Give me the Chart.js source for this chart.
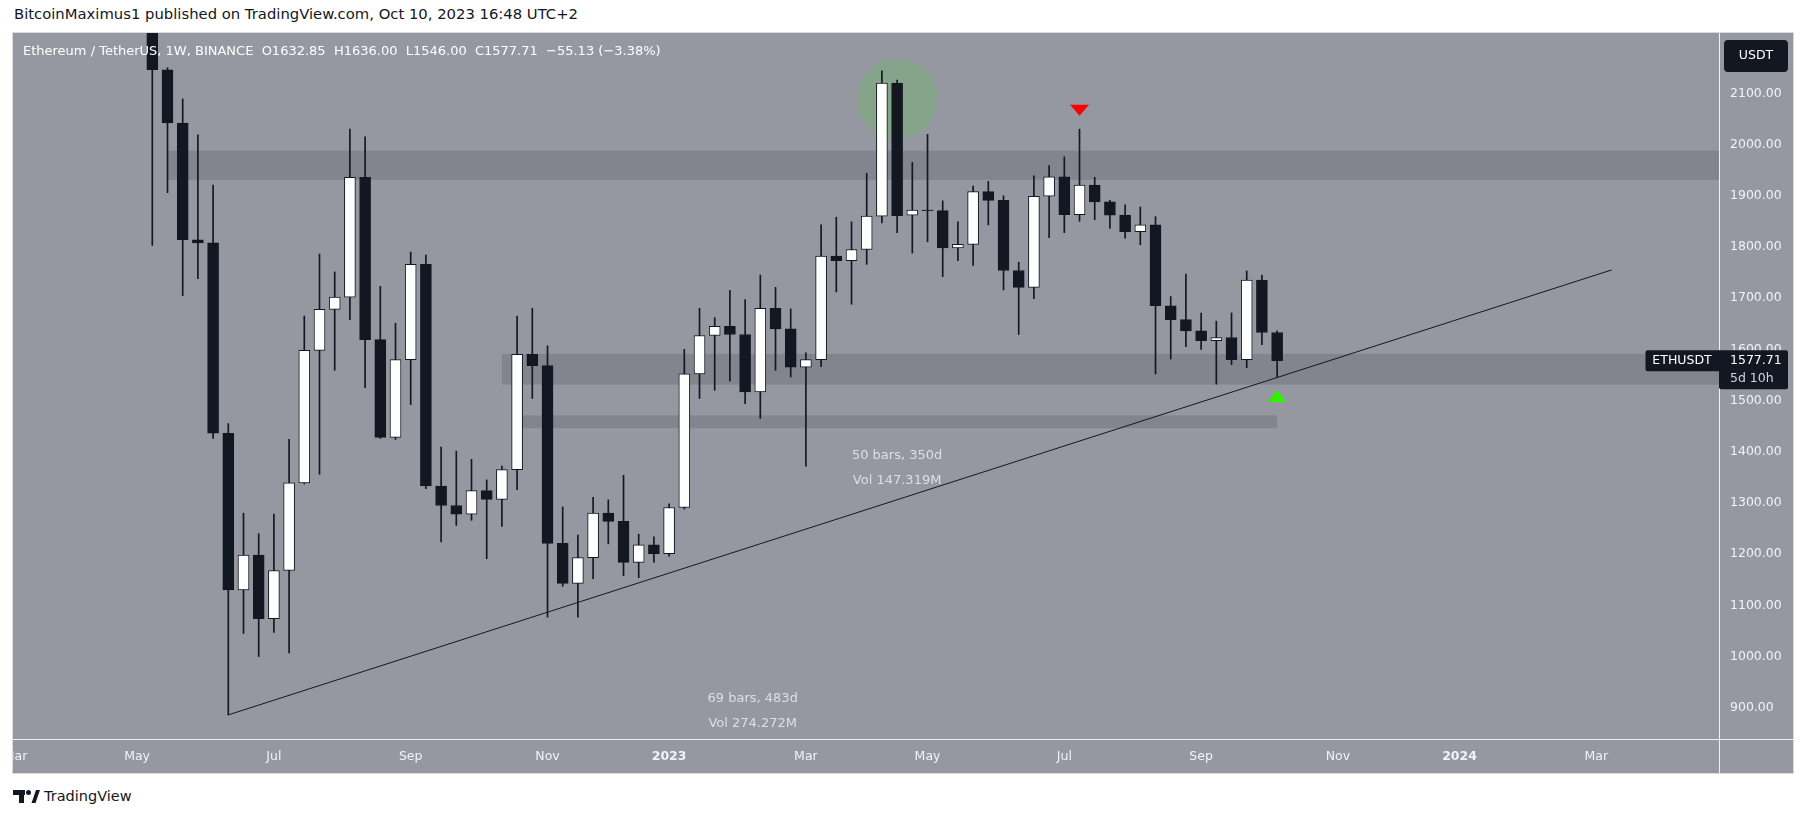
<!DOCTYPE html>
<html>
<head>
<meta charset="utf-8">
<script src="https://cdn.jsdelivr.net/npm/chart.js@4.4.0/dist/chart.umd.min.js"></script>
<style>
  html, body { margin: 0; padding: 0; background: #ffffff; width: 1807px; height: 818px; overflow: hidden; font-family: "DejaVu Sans", sans-serif; }
  #published { position: absolute; left: 14px; top: 5px; font-size: 14.8px; line-height: 18px; color: #131722; }
  #pane { position: absolute; left: 13px; top: 33px; width: 1780px; height: 740px; background: #9598a1; box-shadow: 0 0 0 1px #d8dade; }
  #pane canvas { position: absolute; left: 0; top: 0; }
  #footer { position: absolute; left: 13px; top: 787px; height: 18px; display: flex; align-items: center; gap: 4px; color: #131722; font-size: 14.5px; }
</style>
</head>
<body>
<div id="published">BitcoinMaximus1 published on TradingView.com, Oct 10, 2023 16:48 UTC+2</div>
<div id="pane"><canvas id="chart" width="1780" height="740"></canvas></div>
<div id="footer">
  <svg width="27" height="13" viewBox="0 0 27 13"><path d="M0 0h12v5H11v8H6V5H0z" fill="#131722"/><circle cx="15.5" cy="2.5" r="2.5" fill="#131722"/><path d="M18.5 13L23 0h4l-4.5 13z" fill="#131722"/></svg>
  <span>TradingView</span>
</div>
<script>
// Velas semanales ETH/USDT, la primera semana empieza el lunes 2022-05-09
const firstWeek = "2022-05-09";

const opens = [2518, 2146, 2042, 1814, 1808, 1436, 1130, 1198, 1074, 1168,
  1339, 1598, 1678, 1702, 1936, 1619, 1428, 1580, 1766, 1333,
  1295, 1278, 1324, 1307, 1365, 1590, 1568, 1221, 1143, 1193,
  1280, 1264, 1184, 1218, 1201, 1291, 1552, 1627, 1645, 1629,
  1517, 1680, 1640, 1565, 1580, 1782, 1773, 1795, 1860, 2120,
  1862, 1872, 1871, 1798, 1805, 1908, 1891, 1754, 1721, 1899,
  1937, 1863, 1921, 1888, 1862, 1830, 1843, 1685, 1658, 1636,
  1617, 1623, 1580, 1735, 1632.85];
const highs = [2530, 2150, 2089, 2019, 1921, 1455, 1280, 1240, 1278, 1424,
  1665, 1786, 1751, 2030, 2015, 1723, 1651, 1790, 1784, 1409,
  1401, 1385, 1345, 1372, 1665, 1680, 1607, 1292, 1237, 1311,
  1306, 1354, 1239, 1234, 1298, 1600, 1680, 1662, 1715, 1697,
  1745, 1721, 1679, 1593, 1843, 1858, 1849, 1944, 2144, 2126,
  1965, 2020, 1890, 1849, 1919, 1928, 1900, 1770, 1939, 1959,
  1976, 2030, 1936, 1891, 1882, 1878, 1859, 1703, 1747, 1671,
  1655, 1671, 1753, 1745, 1636.00];
const lows = [1803, 1906, 1705, 1738, 1426, 886, 1045, 1000, 1047, 1007,
  1337, 1356, 1559, 1658, 1525, 1426, 1424, 1492, 1328, 1224,
  1256, 1266, 1191, 1254, 1326, 1504, 1077, 1137, 1077, 1152,
  1220, 1158, 1154, 1184, 1196, 1288, 1504, 1520, 1538, 1494,
  1465, 1559, 1546, 1372, 1566, 1712, 1688, 1766, 1847, 1828,
  1788, 1810, 1742, 1773, 1764, 1843, 1716, 1629, 1699, 1818,
  1828, 1850, 1853, 1836, 1817, 1804, 1552, 1581, 1605, 1600,
  1532, 1570, 1564, 1609, 1546.00];
const closes = [2146, 2042, 1814, 1808, 1436, 1130, 1198, 1074, 1168, 1339,
  1598, 1678, 1702, 1936, 1619, 1428, 1580, 1766, 1333, 1295,
  1278, 1324, 1307, 1365, 1590, 1568, 1221, 1143, 1193, 1280,
  1264, 1184, 1218, 1201, 1291, 1552, 1627, 1645, 1629, 1517,
  1680, 1640, 1565, 1580, 1782, 1773, 1795, 1860, 2120, 1861,
  1872, 1871, 1798, 1805, 1908, 1891, 1754, 1721, 1899, 1937,
  1863, 1921, 1888, 1862, 1830, 1843, 1685, 1658, 1636, 1617,
  1623, 1580, 1735, 1632.84, 1577.71];

// Etiquetas del eje de tiempo (primera vela de cada mes)
const tickLabels = ["Mar", "May", "Jul", "Sep", "Nov", "2023", "Mar", "May", "Jul", "Sep", "Nov", "2024", "Mar"];
const tickDates = ["2022-03-07", "2022-05-02", "2022-07-04", "2022-09-05", "2022-11-07", "2023-01-02",
  "2023-03-06", "2023-05-01", "2023-07-03", "2023-09-04", "2023-11-06", "2024-01-01", "2024-03-04"];
const priceTicks = [900, 1000, 1100, 1200, 1300, 1400, 1500, 1600, 1700, 1800, 1900, 2000, 2100];

// Dibujos del autor (en semanas y precio)
const zones = [
  { from: 1, to: null, low: 1931, high: 1988 },
  { from: 23, to: null, low: 1531, high: 1591 },
  { from: 24.3, to: 74, low: 1446, high: 1471 }
];
const trendLine = { x1: 5, y1: 886, x2: 96, y2: 1755 };
const measures = [
  { x: 49, y: 1392, lines: ["50 bars, 350d", "Vol 147.319M"] },
  { x: 39.5, y: 918, lines: ["69 bars, 483d", "Vol 274.272M"] }
];

const DARK = "#131722";
const weekMs = 7 * 24 * 3600 * 1000;
const toWeek = (d) => (Date.parse(d) - Date.parse(firstWeek)) / weekMs;
const tickPos = tickDates.map(toWeek);

const last = opens.length - 1;
const change = closes[last] - closes[last - 1];
const pct = change / closes[last - 1] * 100;
const fmt = (v) => v.toFixed(2);
const neg = (v) => (v < 0 ? "\u2212" + fmt(-v) : "+" + fmt(v));
const legendText = "Ethereum / TetherUS, 1W, BINANCE  O" + fmt(opens[last]) + "  H" + fmt(highs[last]) +
  "  L" + fmt(lows[last]) + "  C" + fmt(closes[last]) + "  " + neg(change) + " (" + neg(pct) + "%)";

const bodies = opens.map((o, i) => ({ x: i, y: [o, closes[i]] }));
const wicks = opens.map((o, i) => ({ x: i, y: [lows[i], highs[i]] }));
const bodyColors = opens.map((o, i) => (closes[i] >= o ? "#ffffff" : DARK));

function roundRect(ctx, x, y, w, h, r) {
  ctx.beginPath();
  ctx.roundRect(x, y, w, h, r);
  ctx.fill();
}

const drawings = {
  id: "drawings",
  beforeDatasetsDraw(chart) {
    const { ctx, chartArea: a, scales: { x, y } } = chart;
    ctx.save();
    ctx.beginPath();
    ctx.rect(a.left, a.top, a.right - a.left, a.bottom - a.top);
    ctx.clip();
    ctx.fillStyle = "#82858e";
    zones.forEach((z) => {
      const x1 = x.getPixelForValue(z.from);
      const x2 = z.to === null ? a.right : x.getPixelForValue(z.to);
      const y1 = y.getPixelForValue(z.high);
      const y2 = y.getPixelForValue(z.low);
      ctx.fillRect(x1, y1, x2 - x1, y2 - y1);
    });
    // círculo verde en el máximo de abril
    ctx.fillStyle = "#86a489";
    ctx.beginPath();
    ctx.arc(x.getPixelForValue(49), y.getPixelForValue(2089), 40, 0, Math.PI * 2);
    ctx.fill();
    ctx.restore();
  },
  afterDatasetsDraw(chart) {
    const { ctx, chartArea: a, scales: { x, y } } = chart;
    ctx.save();
    ctx.beginPath();
    ctx.rect(a.left, a.top, a.right - a.left, a.bottom - a.top);
    ctx.clip();

    ctx.strokeStyle = DARK;
    ctx.lineWidth = 1;
    ctx.beginPath();
    ctx.moveTo(x.getPixelForValue(trendLine.x1), y.getPixelForValue(trendLine.y1));
    ctx.lineTo(x.getPixelForValue(trendLine.x2), y.getPixelForValue(trendLine.y2));
    ctx.stroke();

    // flecha roja sobre el máximo de julio
    let tx = x.getPixelForValue(61);
    let ty = y.getPixelForValue(highs[61]) - 13.5;
    ctx.fillStyle = "#ff0000";
    ctx.beginPath();
    ctx.moveTo(tx, ty);
    ctx.lineTo(tx - 9.5, ty - 11);
    ctx.lineTo(tx + 9.5, ty - 11);
    ctx.closePath();
    ctx.fill();

    // flecha verde bajo la última vela
    tx = x.getPixelForValue(last);
    ty = y.getPixelForValue(lows[last]) + 13;
    ctx.fillStyle = "#33f000";
    ctx.beginPath();
    ctx.moveTo(tx, ty);
    ctx.lineTo(tx - 9.5, ty + 12);
    ctx.lineTo(tx + 9.5, ty + 12);
    ctx.closePath();
    ctx.fill();

    ctx.fillStyle = "rgba(226,228,233,0.92)";
    ctx.font = "13px 'DejaVu Sans'";
    ctx.textAlign = "center";
    ctx.textBaseline = "middle";
    measures.forEach((m) => {
      const mx = x.getPixelForValue(m.x);
      const my = y.getPixelForValue(m.y);
      m.lines.forEach((t, k) => ctx.fillText(t, mx, my + k * 25));
    });

    ctx.fillStyle = "#ffffff";
    ctx.textAlign = "left";
    ctx.font = "13px 'DejaVu Sans'";
    ctx.fillText(legendText, 10, 19);
    ctx.restore();
  },
  afterDraw(chart) {
    const { ctx, chartArea: a, scales: { y }, width, height } = chart;
    ctx.save();
    ctx.strokeStyle = "#eef0f4";
    ctx.lineWidth = 1;
    ctx.beginPath();
    ctx.moveTo(a.right + 0.5, 0);
    ctx.lineTo(a.right + 0.5, height);
    ctx.moveTo(0, a.bottom + 0.5);
    ctx.lineTo(width, a.bottom + 0.5);
    ctx.stroke();

    ctx.font = "12.5px 'DejaVu Sans'";
    ctx.textBaseline = "middle";

    // caja de la moneda
    ctx.fillStyle = DARK;
    roundRect(ctx, a.right + 5, 7, 64, 32, 4);
    ctx.fillStyle = "#ffffff";
    ctx.textAlign = "center";
    ctx.fillText("USDT", a.right + 37, 23);

    // etiqueta del último precio
    const py = y.getPixelForValue(closes[last]);
    ctx.fillStyle = DARK;
    roundRect(ctx, a.right - 73.5, py - 10.5, 74, 21, [2, 0, 0, 2]);
    roundRect(ctx, a.right, py - 10.5, 69, 39, [0, 2, 2, 2]);
    ctx.fillStyle = "#ffffff";
    ctx.fillText("ETHUSDT", a.right - 37, py);
    ctx.textAlign = "left";
    ctx.fillText(fmt(closes[last]), a.right + 11, py);
    ctx.fillStyle = "#d1d4dc";
    ctx.fillText("5d 10h", a.right + 11, py + 18);
    ctx.restore();
  }
};

const axisFont = { family: "'DejaVu Sans'", size: 12.5 };

new Chart(document.getElementById("chart"), {
  type: "bar",
  data: {
    datasets: [
      {
        label: "Cuerpo",
        data: bodies,
        backgroundColor: bodyColors,
        borderColor: DARK,
        borderWidth: 1,
        borderSkipped: false,
        barThickness: 11,
        grouped: false,
        order: 1
      },
      {
        label: "Mecha",
        data: wicks,
        backgroundColor: DARK,
        borderWidth: 0,
        barThickness: 1,
        grouped: false,
        order: 2
      }
    ]
  },
  options: {
    responsive: false,
    devicePixelRatio: 1,
    animation: false,
    events: [],
    layout: { padding: 0 },
    plugins: { legend: { display: false }, tooltip: { enabled: false } },
    scales: {
      x: {
        type: "linear",
        min: -9.164,
        max: 103.07,
        offset: false,
        grid: { display: false, drawTicks: false },
        border: { display: false },
        ticks: {
          autoSkip: false,
          maxRotation: 0,
          padding: 10,
          color: "#f0f3fa",
          font: (c) => ({ ...axisFont, weight: /^\d{4}$/.test(tickLabels[c.index] || "") ? "bold" : "normal" }),
          callback: (v, i) => tickLabels[i]
        },
        afterBuildTicks: (s) => { s.ticks = tickPos.map((v) => ({ value: v })); },
        afterFit: (s) => { s.height = 34; s.paddingLeft = 0; s.paddingRight = 0; }
      },
      y: {
        type: "linear",
        position: "right",
        min: 838.9,
        max: 2217.8,
        grid: { display: false, drawTicks: false },
        border: { display: false },
        ticks: {
          padding: 11,
          color: "#f0f3fa",
          font: axisFont,
          callback: (v) => v.toFixed(2)
        },
        afterBuildTicks: (s) => { s.ticks = priceTicks.map((v) => ({ value: v })); },
        afterFit: (s) => { s.width = 74; s.paddingTop = 0; s.paddingBottom = 0; }
      }
    }
  },
  plugins: [drawings]
});
</script>
</body>
</html>
